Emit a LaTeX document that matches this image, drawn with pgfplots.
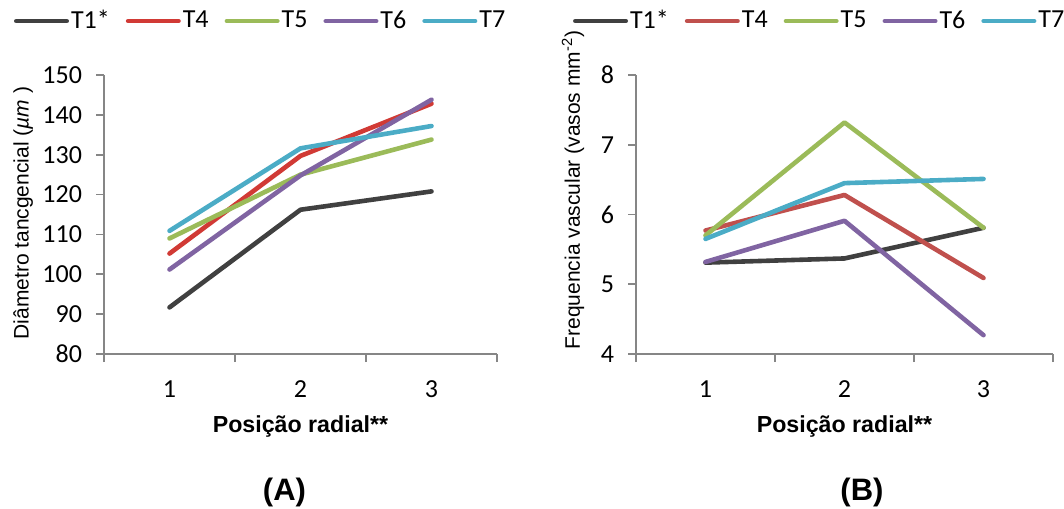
\documentclass[border=0pt]{standalone}
\usepackage{pgfplots}
\pgfplotsset{compat=1.18}
\usepackage{fontspec}
\setmainfont{Liberation Sans}
\newfontfamily\calfont{Carlito}
\definecolor{cT1}{HTML}{404040}
\definecolor{cT4a}{HTML}{D13A35}
\definecolor{cT4b}{HTML}{C0504D}
\definecolor{cT5}{HTML}{9BBB59}
\definecolor{cT6}{HTML}{8064A2}
\definecolor{cT7}{HTML}{4BACC6}
\definecolor{axgray}{HTML}{868686}
\pgfplotsset{
  mystyle/.style={
    scale only axis,
    height=139.5pt,
    xmin=0.5, xmax=3.5,
    axis x line*=bottom, axis y line*=left,
    axis line style={axgray, line width=0.8pt},
    every tick/.style={axgray, line width=0.8pt},
    xtick={1,2,3},
    major x tick style={draw=none},
    minor xtick={0.5,1.5,2.5,3.5},
    minor tick length=4pt,
    major tick length=4pt,
    tick align=outside,
    /pgf/number format/assume math mode=true,
    ticklabel style={font=\calfont\fontsize{13}{15}\selectfont},
    xticklabel style={yshift=-6pt},
    yticklabel style={xshift=-3.5pt},
    xlabel={\textbf{Posição radial**}},
    xlabel style={font=\fontsize{11.6}{13}\selectfont, at={(axis description cs:0.5,-0.2616)}, anchor=center},
    ylabel style={font=\fontsize{10.5}{12}\selectfont},
    every axis plot/.append style={line width=2.3pt, line cap=round, line join=round},
    legend columns=5,
    legend image code/.code={\draw[#1, line width=2.3pt, line cap=round] (1.15pt,0pt) -- (26.35pt,0pt);},
    legend style={draw=none, fill=none, inner sep=0pt, outer sep=0pt,
      font=\calfont\fontsize{13}{15}\selectfont,
      nodes={inner xsep=1pt, inner ysep=0pt},
      /tikz/every odd column/.append style={column sep=0pt},
      /tikz/every even column/.append style={column sep=7pt}},
  }
}
\begin{document}
\begin{tikzpicture}
\path[use as bounding box] (0,0) rectangle (532pt,-254pt);
\begin{axis}[mystyle,
  at={(52pt,-177pt)}, anchor=south west,
  width=196.5pt,
  ymin=80, ymax=150, ytick={80,90,...,150},
  ylabel={Diâmetro tancgencial (\textit{µm} )},
  ylabel style={at={(axis description cs:-0.206,0.505)}, anchor=center},
  legend style={at={(axis description cs:-0.229,1.1935)}, anchor=west},
]
\addplot[cT1] coordinates {(1,91.7) (2,116.2) (3,120.8)};
\addplot[cT4a] coordinates {(1,105.2) (2,129.7) (3,142.8)};
\addplot[cT5] coordinates {(1,109.0) (2,125.0) (3,133.8)};
\addplot[cT6] coordinates {(1,101.2) (2,124.8) (3,143.8)};
\addplot[cT7] coordinates {(1,110.9) (2,131.6) (3,137.2)};
\legend{T1*,T4,T5,T6,T7}
\end{axis}
\begin{axis}[mystyle,
  at={(318pt,-177pt)}, anchor=south west,
  width=208.5pt,
  ymin=4, ymax=8, ytick={4,5,...,8},
  ylabel={Frequencia vascular (vasos mm\textsuperscript{-2})},
  ylabel style={at={(axis description cs:-0.151,0.588)}, anchor=center},
  legend style={at={(axis description cs:-0.151,1.1935)}, anchor=west},
]
\addplot[cT1] coordinates {(1,5.31) (2,5.37) (3,5.81)};
\addplot[cT4b] coordinates {(1,5.77) (2,6.28) (3,5.09)};
\addplot[cT5] coordinates {(1,5.70) (2,7.32) (3,5.81)};
\addplot[cT6] coordinates {(1,5.32) (2,5.91) (3,4.27)};
\addplot[cT7] coordinates {(1,5.65) (2,6.45) (3,6.51)};
\legend{T1*,T4,T5,T6,T7}
\end{axis}
\node[font=\bfseries\fontsize{15.5}{17}\selectfont] at (142.25pt,-246.25pt) {(A)};
\node[font=\bfseries\fontsize{15.5}{17}\selectfont] at (431pt,-246.25pt) {(B)};
\end{tikzpicture}
\end{document}
